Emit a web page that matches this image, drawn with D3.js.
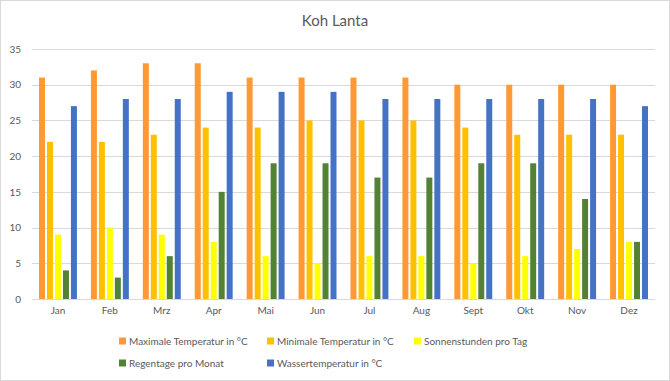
<!DOCTYPE html>
<html>
<head>
<meta charset="utf-8">
<script src="https://cdn.jsdelivr.net/npm/d3@7"></script>
<style>
  body { margin: 0; background: #fff; }
  svg { display: block; font-family: Lato, "Open Sans", sans-serif; }
</style>
</head>
<body>
<svg id="chart" width="670" height="381"></svg>
<script>
var months = ["Jan", "Feb", "Mrz", "Apr", "Mai", "Jun", "Jul", "Aug", "Sept", "Okt", "Nov", "Dez"];
var seriesNames = ["Maximale Temperatur in °C", "Minimale Temperatur in °C", "Sonnenstunden pro Tag", "Regentage pro Monat", "Wassertemperatur in °C"];
var maxTemp = [31, 32, 33, 33, 31, 31, 31, 31, 30, 30, 30, 30];
var minTemp = [22, 22, 23, 24, 24, 25, 25, 25, 24, 23, 23, 23];
var sunHours = [9, 10, 9, 8, 6, 5, 6, 6, 5, 6, 7, 8];
var rainDays = [4, 3, 6, 15, 19, 19, 17, 17, 19, 19, 14, 8];
var waterTemp = [27, 28, 28, 29, 29, 29, 28, 28, 28, 28, 28, 27];
var yTicks = [0, 5, 10, 15, 20, 25, 30, 35];

var colors = ["#FF9933", "#FFC000", "#FFFF00", "#548235", "#4472C4"];
var allSeries = [maxTemp, minTemp, sunHours, rainDays, waterTemp];

var svg = d3.select("#chart");

// chart border
svg.append("rect")
  .attr("x", 0.5).attr("y", 0.5)
  .attr("width", 669).attr("height", 380)
  .attr("fill", "#fff").attr("stroke", "#d9d9d9");

var plotLeft = 32, plotRight = 655, plotTop = 49, plotBottom = 299;

var x = d3.scaleBand().domain(months).range([plotLeft, plotRight]).paddingInner(0).paddingOuter(0);
var x1 = d3.scaleBand().domain(d3.range(5)).range([7, x.bandwidth() - 7]).paddingInner(0.25).paddingOuter(0);
var y = d3.scaleLinear().domain([0, 35]).range([plotBottom, plotTop]);

svg.append("text")
  .attr("x", 335).attr("y", 26)
  .attr("text-anchor", "middle")
  .attr("font-size", 15)
  .attr("fill", "#595959")
  .text("Koh Lanta");

// gridlines
svg.append("g").selectAll("line")
  .data(yTicks)
  .enter().append("line")
    .attr("x1", plotLeft).attr("x2", plotRight)
    .attr("y1", function(d) { return Math.round(y(d)) + 0.5; })
    .attr("y2", function(d) { return Math.round(y(d)) + 0.5; })
    .attr("stroke", "#d9d9d9").attr("stroke-width", 1);

var yAxis = svg.append("g")
  .attr("transform", "translate(" + (plotLeft - 11) + ",0)")
  .call(d3.axisLeft(y).tickValues(yTicks).tickSize(0).tickPadding(0));
yAxis.select(".domain").remove();
yAxis.selectAll("text").attr("fill", "#595959").attr("font-size", 10).attr("font-family", "Lato, 'Open Sans', sans-serif");

// bars
var groups = svg.append("g").selectAll("g")
  .data(months)
  .enter().append("g")
    .attr("transform", function(d) { return "translate(" + x(d) + ",0)"; });

groups.selectAll("rect")
  .data(function(d, i) { return allSeries.map(function(s, k) { return {k: k, v: s[i]}; }); })
  .enter().append("rect")
    .attr("x", function(d) { return x1(d.k); })
    .attr("width", x1.bandwidth())
    .attr("y", function(d) { return y(d.v); })
    .attr("height", function(d) { return y(0) - y(d.v); })
    .attr("fill", function(d) { return colors[d.k]; });

var xAxis = svg.append("g")
  .attr("transform", "translate(0," + (plotBottom + 8) + ")")
  .call(d3.axisBottom(x).tickSize(0).tickPadding(0));
xAxis.select(".domain").remove();
xAxis.selectAll("text").attr("fill", "#595959").attr("font-size", 10).attr("dy", "0.71em").attr("font-family", "Lato, 'Open Sans', sans-serif");

// legend
var legendPos = [[119, 341], [267, 341], [414, 341], [119, 363], [267, 363]];
var legend = svg.append("g").selectAll("g")
  .data(seriesNames)
  .enter().append("g")
    .attr("transform", function(d, i) { return "translate(" + legendPos[i][0] + "," + legendPos[i][1] + ")"; });
legend.append("rect")
  .attr("x", 0).attr("y", -3.5).attr("width", 7).attr("height", 7)
  .attr("fill", function(d, i) { return colors[i]; });
legend.append("text")
  .attr("x", 10).attr("y", 0).attr("dy", "0.35em")
  .attr("font-size", 10).attr("fill", "#595959")
  .text(function(d) { return d; });
</script>
</body>
</html>
